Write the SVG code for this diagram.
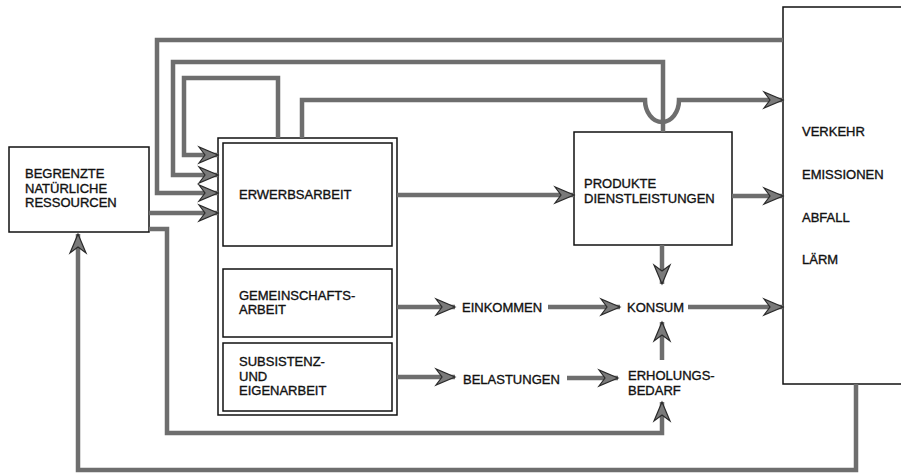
<svg xmlns="http://www.w3.org/2000/svg" width="901" height="473" viewBox="0 0 901 473">
<defs>
<style>
.box{fill:#fff;stroke:#111;stroke-width:1.5}
.t{font-family:"Liberation Sans",Arial,sans-serif;font-size:13px;fill:#111;stroke:#111;stroke-width:0.35}
.c{fill:none;stroke:#6e6e6e;stroke-width:4.5;stroke-linejoin:miter}
</style>
<marker id="ah" markerUnits="userSpaceOnUse" markerWidth="24" markerHeight="20" viewBox="-20 -10 21 20" refX="0" refY="0" orient="auto">
<path d="M0,0 L-19,-8 L-13,0 L-19,8 Z" fill="#7a7a7a" stroke="#2a2a2a" stroke-width="1.2"/>
</marker>
</defs>
<rect width="901" height="473" fill="#fff"/>

<g id="ressourcen">
<rect class="box" x="9" y="147" width="140" height="85"/>
<text class="t" x="25" y="178">BEGRENZTE</text>
<text class="t" x="25" y="192.5">NATÜRLICHE</text>
<text class="t" x="25" y="207">RESSOURCEN</text>
</g>

<g id="arbeit">
<rect class="box" x="218" y="138" width="179" height="277"/>
</g>
<g id="erwerbsarbeit">
<rect class="box" x="223" y="143" width="169" height="103"/>
<text class="t" x="239" y="199">ERWERBSARBEIT</text>
</g>
<g id="gemeinschaftsarbeit">
<rect class="box" x="223" y="269" width="169" height="68"/>
<text class="t" x="239" y="300">GEMEINSCHAFTS-</text>
<text class="t" x="239" y="314">ARBEIT</text>
</g>
<g id="subsistenz">
<rect class="box" x="223" y="343" width="169" height="68"/>
<text class="t" x="239" y="366">SUBSISTENZ-</text>
<text class="t" x="239" y="380.5">UND</text>
<text class="t" x="239" y="395">EIGENARBEIT</text>
</g>

<g id="produkte">
<rect class="box" x="574" y="132" width="158" height="113"/>
<text class="t" x="584" y="188">PRODUKTE</text>
<text class="t" x="584" y="203">DIENSTLEISTUNGEN</text>
</g>

<g id="umwelt">
<rect class="box" x="783" y="7" width="130" height="377"/>
<text class="t" x="802" y="136">VERKEHR</text>
<text class="t" x="802" y="179">EMISSIONEN</text>
<text class="t" x="802" y="222">ABFALL</text>
<text class="t" x="802" y="264">LÄRM</text>
</g>

<g id="einkommen"><text class="t" x="462" y="312">EINKOMMEN</text></g>
<g id="konsum"><text class="t" x="627" y="312">KONSUM</text></g>
<g id="belastungen"><text class="t" x="463" y="384">BELASTUNGEN</text></g>
<g id="erholungsbedarf">
<text class="t" x="628" y="380">ERHOLUNGS-</text>
<text class="t" x="628" y="395">BEDARF</text>
</g>

<g id="connectors">
<path class="c" d="M783,40 H157 V193 H218" marker-end="url(#ah)"/>
<path class="c" d="M663,132 V62 H173 V175 H218" marker-end="url(#ah)"/>
<path class="c" d="M278,138 V78 H184 V155 H218" marker-end="url(#ah)"/>
<path class="c" d="M302,138 V100 H645 A17,22 0 0 0 679,100 H783" marker-end="url(#ah)"/>
<path class="c" d="M149,213 H218" marker-end="url(#ah)"/>
<path class="c" d="M149,229 H167 V433 H662 V402" marker-end="url(#ah)"/>
<path class="c" d="M856,384 V470 H78 V234" marker-end="url(#ah)"/>
<path class="c" d="M397,195 H574" marker-end="url(#ah)"/>
<path class="c" d="M732,196 H783" marker-end="url(#ah)"/>
<path class="c" d="M397,307 H455" marker-end="url(#ah)"/>
<path class="c" d="M548,307 H620" marker-end="url(#ah)"/>
<path class="c" d="M688,307 H783" marker-end="url(#ah)"/>
<path class="c" d="M662,245 V284" marker-end="url(#ah)"/>
<path class="c" d="M397,377 H455" marker-end="url(#ah)"/>
<path class="c" d="M567,378 H618" marker-end="url(#ah)"/>
<path class="c" d="M662,360 V322" marker-end="url(#ah)"/>
</g>
</svg>
